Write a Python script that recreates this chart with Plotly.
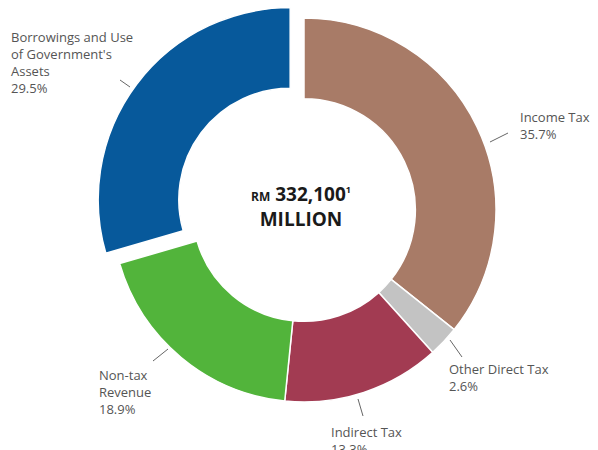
import plotly.graph_objects as go

labels = ["Income Tax", "Other Direct Tax", "Indirect Tax", "Non-tax Revenue",
          "Borrowings and Use of Government's Assets"]
label_text = ["Income Tax", "Other Direct Tax", "Indirect Tax", "Non-tax<br>Revenue",
              "Borrowings and Use<br>of Government's<br>Assets"]
values = [35.7, 2.6, 13.3, 18.9, 29.5]
colors = ["#a87b67", "#c3c3c3", "#a23b52", "#52b43b", "#07599b"]
pulls = [0, 0, 0, 0, 0.09]
total_text = "332,100"

W, H = 598, 450

def px(x):
    return x / W

def py(y):
    return 1 - y / H

# pie box (pixels)
cx, cy, R = 304, 210, 192
half = min(R * (1 + max(pulls)), cy - 0.1)

fig = go.Figure(go.Pie(
    labels=labels, values=values, sort=False, direction="clockwise", rotation=0,
    hole=0.58, pull=pulls,
    marker=dict(colors=colors, line=dict(color="white", width=1.5)),
    textinfo="none", hoverinfo="label+percent", showlegend=False,
    domain=dict(x=[px(cx - half), px(cx + half)], y=[py(cy + half), py(cy - half)]),
))

font = dict(family="Open Sans, Noto Sans, sans-serif", size=13, color="#555555")

# label positions (pixel: x, top y, anchor)
pos = [
    (518, 106, "left"),
    (447, 358, "left"),
    (329, 421, "left"),
    (97, 364, "left"),
    (9, 26, "left"),
]
annotations = []
for txt, v, (x, y, anc) in zip(label_text, values, pos):
    annotations.append(dict(
        text=f"{txt}<br>{v}%", x=px(x), y=py(y), xref="paper", yref="paper",
        xanchor=anc, yanchor="top", align="left", showarrow=False, font=font,
    ))

annotations.append(dict(
    text=(f"<b><span style='font-size:12px'>RM</span> {total_text}"
          f"<sup><span style='font-size:9px'>1</span></sup><br>MILLION</b>"),
    x=px(301), y=py(207), xref="paper", yref="paper", xanchor="center", yanchor="middle",
    showarrow=False, align="center",
    font=dict(family="Open Sans, Noto Sans, sans-serif", size=19, color="#1a1a1a"),
))

leaders = [
    ((490, 142), (508, 133)),
    ((450, 340), (462, 357)),
    ((358, 399), (363, 416)),
    ((168, 349), (153, 361)),
    ((120, 80), (130, 87)),
]
shapes = [dict(type="line", xref="paper", yref="paper",
               x0=px(a[0]), y0=py(a[1]), x1=px(b[0]), y1=py(b[1]),
               line=dict(color="#666666", width=1)) for a, b in leaders]

fig.update_layout(
    width=W, height=H, margin=dict(l=0, r=0, t=0, b=0),
    paper_bgcolor="white", plot_bgcolor="white",
    annotations=annotations, shapes=shapes,
)

fig.write_html("out.html", config={"displayModeBar": False},
               post_script="document.body.style.margin='0px';")
